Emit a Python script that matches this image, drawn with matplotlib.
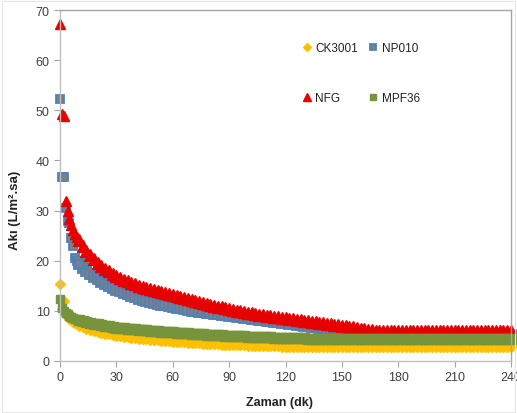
import numpy as np
import matplotlib
matplotlib.use("Agg")
import matplotlib.pyplot as plt

# sampling times (min): every minute up to 10, then every 2 minutes
time_min = np.concatenate([np.arange(0, 11), np.arange(12, 241, 2)])

ck3001 = [15.3, 10.3, 12.0, 9.2, 8.8, 8.4, 8.1, 7.8, 7.6, 7.4, 7.2,
          6.9, 6.6, 6.4, 6.2, 6.0, 5.8, 5.6, 5.5, 5.3, 5.2,
          5.1, 5.0, 4.9, 4.8, 4.7, 4.6, 4.55, 4.5, 4.4, 4.35,
          4.3, 4.2, 4.15, 4.1, 4.0, 3.95, 3.9, 3.9, 3.85, 3.8,
          3.75, 3.7, 3.65, 3.6, 3.6, 3.55, 3.5, 3.45, 3.45, 3.4,
          3.35, 3.35, 3.3, 3.3, 3.25, 3.2, 3.2, 3.2, 3.15, 3.15,
          3.1, 3.1, 3.1, 3.05, 3.0,
          3.0, 3.0, 3.0, 3.0, 3.0, 3.0, 3.0, 3.0, 3.0, 3.0,
          3.0, 3.0, 3.0, 3.0, 3.0, 3.0, 3.0, 3.0, 3.0, 3.0,
          3.0, 3.0, 3.0, 3.0, 3.0, 3.0, 3.0, 3.0, 3.0, 3.0,
          3.0, 3.0, 3.0, 3.0, 3.0, 3.0, 3.0, 3.0, 3.0, 3.0,
          3.0, 3.0, 3.0, 3.0, 3.0, 3.0, 3.0, 3.0, 3.0, 3.0,
          3.0, 3.0, 3.0, 3.0, 3.0, 3.0, 3.0, 3.0, 3.0, 3.0]

np010 = [52.2, 36.7, 36.7, 30.6, 28.0, 27.6, 24.5, 22.9, 20.6, 20.0, 19.4,
         18.6, 17.9, 17.3, 16.8, 16.3, 15.8, 15.4, 15.0, 14.6, 14.2,
         13.9, 13.6, 13.3, 13.0, 12.7, 12.4, 12.2, 12.0, 11.8, 11.6,
         11.4, 11.2, 11.1, 10.9, 10.8, 10.6, 10.5, 10.3, 10.2, 10.0,
         9.9, 9.8, 9.7, 9.6, 9.5, 9.4, 9.3, 9.2, 9.1, 9.0,
         8.9, 8.8, 8.7, 8.6, 8.5, 8.4, 8.3, 8.2, 8.1, 8.0,
         7.9, 7.8, 7.7, 7.6, 7.5, 7.4, 7.3, 7.2, 7.1, 7.0,
         6.9, 6.8, 6.7, 6.6, 6.5, 6.4, 6.3, 6.2, 6.1, 6.0,
         5.9, 5.8, 5.7, 5.6, 5.5, 5.4, 5.3, 5.2,
         5.2, 5.2, 5.2, 5.2, 5.2, 5.2, 5.2, 5.2, 5.2, 5.2,
         5.2, 5.2, 5.2, 5.2, 5.2, 5.2, 5.2, 5.2, 5.2, 5.2,
         5.2, 5.2, 5.2, 5.2, 5.2, 5.2, 5.2, 5.2, 5.2, 5.2,
         5.2, 5.2, 5.2, 5.2, 5.2, 5.2, 5.2]

nfg = [67.3, 49.2, 48.8, 32.0, 30.0, 28.4, 27.2, 26.2, 25.4, 24.7, 24.1,
       23.0, 22.0, 21.1, 20.3, 19.6, 19.0, 18.4, 17.9, 17.4, 17.0,
       16.6, 16.2, 15.9, 15.6, 15.3, 15.0, 14.7, 14.5, 14.3, 14.1,
       13.9, 13.7, 13.5, 13.3, 13.1, 12.9, 12.7, 12.5, 12.3, 12.1,
       11.9, 11.7, 11.5, 11.3, 11.2, 11.0, 10.8, 10.7, 10.5, 10.3,
       10.2, 10.0, 9.9, 9.7, 9.6, 9.5, 9.3, 9.2, 9.1, 9.0,
       8.9, 8.8, 8.7, 8.6, 8.5, 8.4, 8.3, 8.2, 8.1, 8.0,
       7.9, 7.8, 7.7, 7.6, 7.5, 7.4, 7.3, 7.2, 7.1, 7.0,
       6.9, 6.8, 6.7, 6.5, 6.4, 6.3, 6.2, 6.1,
       6.0, 6.0, 6.0, 6.0, 6.0, 6.0, 6.0, 6.0, 6.0, 6.0,
       6.0, 6.0, 6.0, 6.0, 6.0, 6.0, 6.0, 6.0, 6.0, 6.0,
       6.0, 6.0, 6.0, 6.0, 6.0, 6.0, 6.0, 6.0, 6.0, 6.0,
       6.0, 6.0, 6.0, 6.0, 6.0, 6.0, 6.0]

mpf36 = [12.4, 10.6, 10.0, 9.6, 9.3, 9.0, 8.8, 8.6, 8.4, 8.3, 8.1,
         7.9, 7.7, 7.6, 7.4, 7.3, 7.1, 7.0, 6.9, 6.7, 6.6,
         6.5, 6.5, 6.4, 6.3, 6.3, 6.2, 6.1, 6.1, 6.0, 5.9,
         5.9, 5.8, 5.8, 5.7, 5.7, 5.6, 5.6, 5.5, 5.5, 5.4,
         5.4, 5.3, 5.3, 5.25, 5.2, 5.2, 5.15, 5.1, 5.05, 5.0,
         5.0, 4.95, 4.9, 4.9, 4.85, 4.8, 4.8, 4.75, 4.75, 4.7,
         4.7, 4.65, 4.65, 4.6, 4.6, 4.55, 4.55, 4.5, 4.5, 4.5,
         4.45, 4.45, 4.45, 4.4, 4.4, 4.4, 4.4, 4.35, 4.35, 4.35,
         4.3, 4.3, 4.3, 4.3, 4.3, 4.3, 4.3, 4.3,
         4.3, 4.3, 4.3, 4.3, 4.3, 4.3, 4.3, 4.3, 4.3, 4.3,
         4.3, 4.3, 4.3, 4.3, 4.3, 4.3, 4.3, 4.3, 4.3, 4.3,
         4.3, 4.3, 4.3, 4.3, 4.3, 4.3, 4.3, 4.3, 4.3, 4.3,
         4.3, 4.3, 4.3, 4.3, 4.3, 4.3, 4.3]

labels = ["CK3001", "NP010", "NFG", "MPF36"]
x_ticks = [0, 30, 60, 90, 120, 150, 180, 210, 240]
y_ticks = [0, 10, 20, 30, 40, 50, 60, 70]

plt.rcParams['font.family'] = ['Liberation Sans', 'DejaVu Sans']

fig = plt.figure(figsize=(5.17, 4.14), dpi=100)
ax = fig.add_axes([60/517, 1-362/414, (511-60)/517, (362-11)/414])

styles = [
    dict(marker='D', color='#FFC000', mfc='#FFC000', mec='#FFC000'),
    dict(marker='s', color='#7F7F7F', mfc='#7F7F7F', mec='#4F81BD', mew=1.3),
    dict(marker='^', color='#E60000', mfc='#E60000', mec='#E60000'),
    dict(marker='s', color='#77933C', mfc='#77933C', mec='#77933C'),
]
# marker sizes: isolated early readings vs. the dense later band
size_early = [5.6, 5.6, 6.8, 6.2]
size_band = [6.6, 6.8, 8.6, 7.2]
series = [ck3001, np010, nfg, mpf36]
t = np.asarray(time_min)
n_early = 11
for vals, st, lab, se, sb in zip(series, styles, labels, size_early, size_band):
    v = np.asarray(vals)
    ax.plot(t[n_early-1:], v[n_early-1:], linestyle='none', ms=sb, clip_on=False, **st)
    ax.plot(t[:n_early], v[:n_early], linestyle='none', ms=se, label=lab, clip_on=False, **st)

ax.set_xlim(0, 240)
ax.set_ylim(0, 70)
ax.set_xticks(x_ticks)
ax.set_yticks(y_ticks)
ax.tick_params(axis='both', colors='#A6A6A6', labelcolor='#404040', labelsize=9,
               length=4, width=0.8, direction='out')
for s in ['left', 'bottom']:
    ax.spines[s].set_color('#BFBFBF')
for s in ['top', 'right']:
    ax.spines[s].set_color('#A6A6A6')
for s in ax.spines.values():
    s.set_linewidth(1.0)

fig.text(15/517, 1-210/414, "Akı (L/m².sa)", rotation=90, ha='center', va='center',
         fontsize=9.5, fontweight='bold', color='#222222')
fig.text(280/517, 1-403/414, "Zaman (dk)", ha='center', va='center',
         fontsize=9, fontweight='bold', color='#222222')

handles, labs = ax.get_legend_handles_labels()
order = [0, 2, 1, 3]
leg = ax.legend([handles[i] for i in order], [labs[i] for i in order], ncol=2,
                loc='upper left', bbox_to_anchor=((303.5-60)/451, 1-(43-11)/351),
                frameon=False, fontsize=8.5, handlelength=0.6, handletextpad=0.4,
                columnspacing=1.0, labelspacing=3.2, markerscale=0.75,
                borderaxespad=0, borderpad=0)
for tx in leg.get_texts():
    tx.set_color('#222222')

fig.patches.append(matplotlib.patches.Rectangle((0.004, 0.002), 0.992, 0.994, transform=fig.transFigure,
                                                fill=False, ec='#E6E6E6', lw=0.8))
fig.savefig("out.png", dpi=100)
